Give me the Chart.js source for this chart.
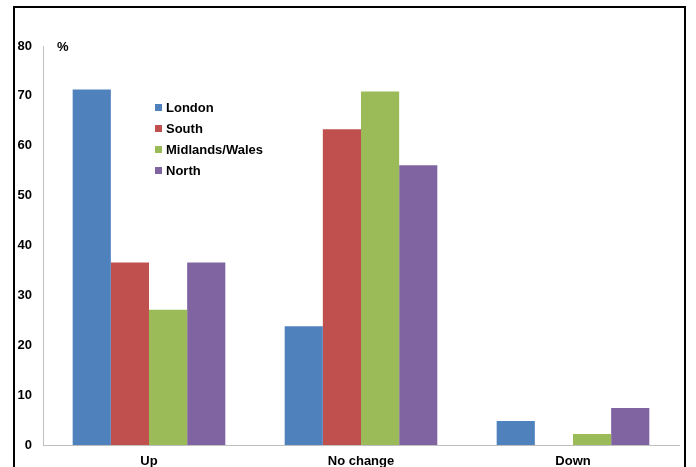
<!DOCTYPE html>
<html>
<head>
<meta charset="utf-8">
<script src="https://cdn.jsdelivr.net/npm/chart.js@4"></script>
<style>
    body { margin: 0; background: #fff; }
    #wrap { position: relative; width: 696px; height: 467px; overflow: hidden; }
    #frame { position: absolute; left: 13px; top: 6px; width: 673px; height: 480px; border: 2px solid #000; box-sizing: border-box; pointer-events: none; }
    #legend { position: absolute; left: 155px; top: 97px; font: bold 13px "Liberation Sans", Arial, sans-serif; color: #000; }
    #legend div { height: 21px; line-height: 21px; }
    #legend span { display: inline-block; width: 7px; height: 7px; margin-right: 4px; vertical-align: 1px; }
</style>
</head>
<body>
<div id="wrap">
    <canvas id="chart" width="696" height="467"></canvas>
    <div id="frame"></div>
    <div id="legend"></div>
</div>
<script>
const categories = ['Up', 'No change', 'Down'];
const seriesNames = ['London', 'South', 'Midlands/Wales', 'North'];
const london = [71.3, 23.8, 4.8];
const south = [36.6, 63.3, 0];
const midlandsWales = [27.1, 70.9, 2.2];
const north = [36.6, 56.1, 7.4];
const colors = ['#4F81BD', '#C0504D', '#9BBB59', '#8064A2'];

const values = [london, south, midlandsWales, north];

const legendBox = document.getElementById('legend');
seriesNames.forEach((name, i) => {
    const row = document.createElement('div');
    const box = document.createElement('span');
    box.style.background = colors[i];
    row.appendChild(box);
    row.appendChild(document.createTextNode(name));
    legendBox.appendChild(row);
});

// "%" unit label next to the top of the y axis
const percentLabel = {
    id: 'percentLabel',
    afterDraw(chart) {
        const ctx = chart.ctx;
        const y = chart.scales.y.getPixelForValue(80);
        ctx.save();
        ctx.font = 'bold 13px "Liberation Sans", Arial, sans-serif';
        ctx.fillStyle = '#000';
        ctx.textBaseline = 'middle';
        ctx.fillText('%', chart.chartArea.left + 14, y + 1);
        ctx.restore();
    }
};

const tickFont = { family: '"Liberation Sans", Arial, sans-serif', size: 13, weight: 'bold' };

new Chart(document.getElementById('chart').getContext('2d'), {
    type: 'bar',
    data: {
        labels: categories,
        datasets: seriesNames.map((name, i) => ({
            label: name,
            data: values[i],
            backgroundColor: colors[i],
            borderWidth: 0,
            barPercentage: 1,
            categoryPercentage: 0.72
        }))
    },
    options: {
        responsive: false,
        animation: false,
        layout: { padding: { top: 46, right: 17, bottom: 0, left: 0 } },
        plugins: { legend: { display: false }, tooltip: { enabled: false } },
        scales: {
            x: {
                grid: { display: false, drawTicks: false },
                border: { color: '#BFBFBF', width: 1 },
                ticks: { color: '#000', font: tickFont, padding: 9 },
                afterFit: s => { s.height = 22; }
            },
            y: {
                min: 0,
                max: 80,
                ticks: { stepSize: 10, color: '#000', font: tickFont, padding: 11 },
                grid: { display: false, drawTicks: false },
                border: { color: '#BFBFBF', width: 1 },
                afterFit: s => { s.width = 43; }
            }
        }
    },
    plugins: [percentLabel]
});
</script>
</body>
</html>
